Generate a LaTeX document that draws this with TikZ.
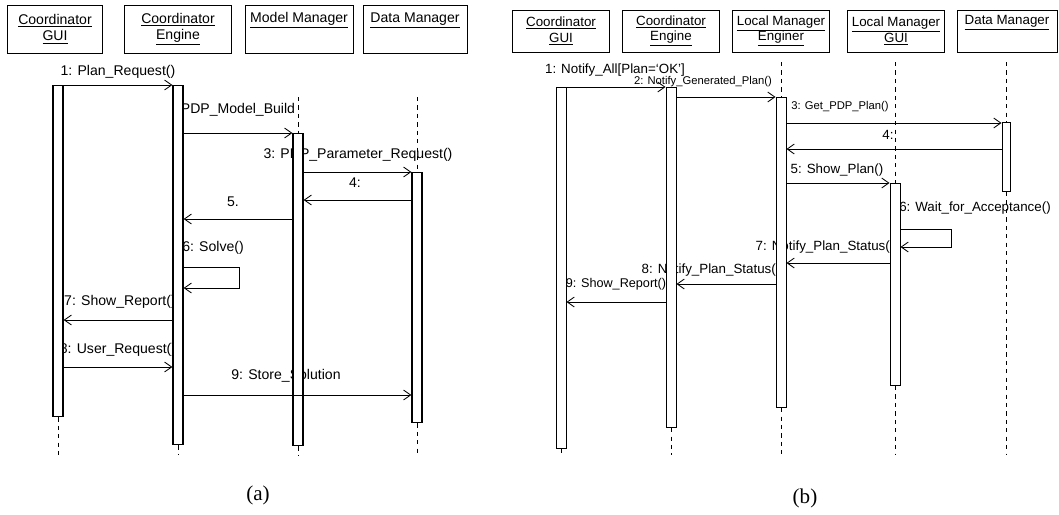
\documentclass[tikz,border=0pt]{standalone}
\usepackage{fontspec}
\setmainfont{Liberation Sans}
\newfontfamily\capfont{Liberation Serif}
\usetikzlibrary{arrows.meta}

\begin{document}
\begin{tikzpicture}[x=0.025cm, y=-0.025cm,
  head/.style={draw, line width=0.6pt, minimum height=1.2cm, align=center,
               inner sep=2pt, font=\fontsize{10}{11.5}\selectfont},
  headb/.style={head, minimum height=1.05cm, minimum width=2.425cm,
               font=\fontsize{9.5}{11}\selectfont},
  bar/.style={draw, line width=0.9pt, fill=white, minimum width=0.25cm,
              inner sep=0pt, anchor=north},
  barb/.style={bar, line width=0.7pt},
  life/.style={dash pattern=on 3pt off 3pt, line width=0.7pt},
  msg/.style={-{Straight Barb[length=5pt,width=7pt]}, line width=0.6pt},
  lbl/.style={font=\fontsize{10}{12}\selectfont, inner sep=0pt},
  lblb/.style={font=\fontsize{9.5}{11}\selectfont, inner sep=0pt},
  lbls/.style={font=\fontsize{8}{10}\selectfont, inner sep=0pt},
  captxt/.style={font=\capfont\fontsize{15}{18}\selectfont}
]
\useasboundingbox[fill=white] (0,0) rectangle (1059,514);

% (a) objects
\node[head, minimum width=2.375cm] (gui) at (55,29)
  {\underline{Coordinator}\\\underline{GUI}};
\node[head, minimum width=2.675cm] (eng) at (178,29)
  {\underline{Coordinator}\\\underline{Engine}};
\node[head, minimum width=2.7cm] (mdl) at (299,29)
  {\underline{Model Manager}\\\strut};
\node[head, minimum width=2.6cm] (dat) at (415,29)
  {\underline{Data Manager}\\\strut};

% (a) message texts
\node[lbl] (m1) at (118,72) {1: Plan\_Request()};
\node[lbl] (m2) at (238,110) {PDP\_Model\_Build};
\node[lbl] (m3) at (358,155) {3: PDP\_Parameter\_Request()};
\node[lbl] (m4) at (355,183) {4:};
\node[lbl] (m5) at (233,202) {5.};
\node[lbl] (m6) at (213,248) {6: Solve()};
\node[lbl] (m7) at (120,302) {7: Show\_Report()};
\node[lbl] (m8) at (118,350) {8: User\_Request()};
\node[lbl] (m9) at (286,376) {9: Store\_Solution};

% (a) activations
\node[bar, minimum height=8.275cm] (gbar) at (58,85) {};
\node[bar, minimum height=8.975cm] (ebar) at (178,85) {};
\node[bar, minimum height=7.8cm] (mbar) at (298,133) {};
\node[bar, minimum height=6.25cm] (dbar) at (417,172) {};

\draw[life] (gbar.south) -- (gbar.south |- 0,455);
\draw[life] (ebar.south) -- (ebar.south |- 0,455);
\draw[life] (mbar.north |- 0,97) -- (mbar.north);
\draw[life] (mbar.south) -- (mbar.south |- 0,455);
\draw[life] (dbar.north |- 0,97) -- (dbar.north);
\draw[life] (dbar.south) -- (dbar.south |- 0,455);

\coordinate (solve) at (239,288);
\draw[msg] (gbar.east |- 0,85) -- (ebar.west |- 0,85);
\draw[msg] (ebar.east |- 0,133) -- (mbar.west |- 0,133);
\draw[msg] (mbar.east |- 0,172) -- (dbar.west |- 0,172);
\draw[msg] (dbar.west |- 0,200) -- (mbar.east |- 0,200);
\draw[msg] (mbar.west |- 0,219) -- (ebar.east |- 0,219);
\draw[msg] (ebar.east |- 0,267) -| (solve) -- (ebar.east |- solve);
\draw[msg] (ebar.west |- 0,320) -- (gbar.east |- 0,320);
\draw[msg] (gbar.east |- 0,367) -- (ebar.west |- 0,367);
\draw[msg] (ebar.east |- 0,395) -- (dbar.west |- 0,395);

% (b) objects
\node[headb] (cgui) at (561,31) {\underline{Coordinator}\\\underline{GUI}};
\node[headb] (ceng) at (671,31) {\underline{Coordinator}\\\underline{Engine}};
\node[headb] (leng) at (781,31) {\underline{Local Manager}\\\underline{Enginer}};
\node[headb] (lgui) at (896,31) {\underline{Local Manager}\\\underline{GUI}};
\node[headb, minimum width=2.5cm] (dmgr) at (1007,31)
  {\underline{Data Manager}\\\strut};

% (b) message texts
\node[lblb] (n1) at (615,70) {1: Notify\_All[Plan=`OK']};
\node[lbls] (n2) at (703,82) {2: Notify\_Generated\_Plan()};
\node[lbls] (n3) at (840,107) {3: Get\_PDP\_Plan()};
\node[lblb] (n4) at (888,135) {4:};
\node[lblb] (n5) at (837,170) {5: Show\_Plan()};
\node[lblb] (n6) at (975,208) {6: Wait\_for\_Acceptance()};
\node[lblb] (n7) at (825,247) {7: Notify\_Plan\_Status()};
\node[lblb] (n8) at (711,270) {8: Notify\_Plan\_Status()};
\node[lblb, font=\fontsize{9}{11}\selectfont] (n9) at (616,284) {9: Show\_Report()};

% (b) activations
\node[barb, minimum height=9.025cm] (gbarb) at (561,87) {};
\node[barb, minimum height=8.5cm] (ebarb) at (671,87) {};
\node[barb, minimum height=7.75cm] (lbarb) at (781,97) {};
\node[barb, minimum height=5.05cm] (ubarb) at (895,183) {};
\node[barb, minimum height=1.725cm, minimum width=0.2cm] (dbarb) at (1006,122) {};

\draw[life] (gbarb.south) -- (gbarb.south |- 0,455);
\draw[life] (ebarb.south) -- (ebarb.south |- 0,455);
\draw[life] (lbarb.north |- 0,62) -- (lbarb.north);
\draw[life] (lbarb.south) -- (lbarb.south |- 0,455);
\draw[life] (ubarb.north |- 0,62) -- (ubarb.north);
\draw[life] (ubarb.south) -- (ubarb.south |- 0,455);
\draw[life] (dbarb.north |- 0,62) -- (dbarb.north);
\draw[life] (dbarb.south) -- (dbarb.south |- 0,455);

\coordinate (wait) at (951,247);
\draw[msg] (gbarb.east |- 0,87) -- (ebarb.west |- 0,87);
\draw[msg] (ebarb.east |- 0,97) -- (lbarb.west |- 0,97);
\draw[msg] (lbarb.east |- 0,123) -- (dbarb.west |- 0,123);
\draw[msg] (dbarb.west |- 0,149) -- (lbarb.east |- 0,149);
\draw[msg] (lbarb.east |- 0,183) -- (ubarb.west |- 0,183);
\draw[msg] (ubarb.east |- 0,229) -| (wait) -- (ubarb.east |- wait);
\draw[msg] (ubarb.west |- 0,263) -- (lbarb.east |- 0,263);
\draw[msg] (lbarb.west |- 0,284) -- (ebarb.east |- 0,284);
\draw[msg] (ebarb.west |- 0,302) -- (gbarb.east |- 0,302);

% captions
\node[captxt] (capa) at (258,495) {(a)};
\node[captxt] (capb) at (805,498) {(b)};
\end{tikzpicture}
\end{document}
